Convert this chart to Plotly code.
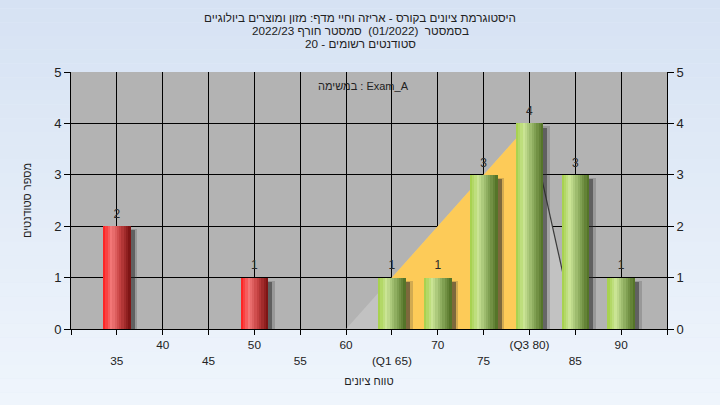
import numpy as np
import plotly.graph_objects as go

# ---------------- data ----------------
scores = [35, 50, 65, 70, 75, 80, 85, 90]
counts = [2, 1, 1, 1, 3, 4, 3, 1]
fail_below = 60
tick_vals = [30, 35, 40, 45, 50, 55, 60, 65, 70, 75, 80, 85, 90, 95]
tick_labels = ["", "35", "40", "45", "50", "55", "60", "(Q1 65)", "70", "75", "(Q3 80)", "85", "90", ""]
q1, q3 = 65, 80
dist_x = [60, 80, 85]
dist_y = [0, 4, 0]

title_lines = [
    "היסטוגרמת ציונים בקורס - אריזה וחיי מדף: מזון ומוצרים ביולוגיים",
    "בסמסטר  (01/2022)  סמסטר חורף 2022/23",
    "סטודנטים רשומים - 20",
]
task_label = "במשימה : Exam_A"
x_title = "טווח ציונים"
y_title = "מספר סטודנטים"

FONT = "Liberation Sans, Arial, DejaVu Sans, sans-serif"
BAR_W = 3.0
N_SLICES = 12


def hex2rgb(h):
    h = h.lstrip("#")
    return [int(h[i:i + 2], 16) for i in (0, 2, 4)]


def grad(stops, t):
    for (t0, c0), (t1, c1) in zip(stops[:-1], stops[1:]):
        if t0 <= t <= t1:
            f = (t - t0) / (t1 - t0) if t1 > t0 else 0
            a, b = hex2rgb(c0), hex2rgb(c1)
            return "rgb(%d,%d,%d)" % tuple(round(a[i] + (b[i] - a[i]) * f) for i in range(3))
    return stops[-1][1]


def poly_path(xs, ys):
    return "M " + " L ".join("%g,%g" % (a, b) for a, b in zip(xs, ys)) + " Z"


red_stops = [(0, "#FF1818"), (0.3, "#F27A7A"), (0.6, "#C84444"), (1.0, "#761010")]
green_stops = [(0, "#A2CF45"), (0.3, "#CBE596"), (0.6, "#93B264"), (1.0, "#4E6E22")]

fig = go.Figure()

# background gradient of paper
n_strip = 30
top_c, bot_c = hex2rgb("#D6E2F3"), hex2rgb("#EFF5FC")
shapes = []
for i in range(n_strip):
    f = i / (n_strip - 1)
    col = "rgb(%d,%d,%d)" % tuple(round(top_c[k] + (bot_c[k] - top_c[k]) * f) for k in range(3))
    shapes.append(dict(type="rect", xref="paper", yref="paper", layer="below",
                       x0=-0.2, x1=1.2, y0=1.3 - (i + 1) * 1.6 / n_strip, y1=1.3 - i * 1.6 / n_strip,
                       fillcolor=col, line=dict(width=0)))
shapes.append(dict(type="rect", xref="x domain", yref="y domain", layer="below",
                   x0=0, x1=1, y0=0, y1=1, fillcolor="#B3B3B3", line=dict(width=0)))

# distribution shape (between gridlines and bars)
yq1 = float(np.interp(q1, dist_x, dist_y))
yq3 = float(np.interp(q3, dist_x, dist_y))
shapes.append(dict(type="path", xref="x", yref="y", layer="between",
                   path=poly_path(dist_x, dist_y), fillcolor="#C2C2C2", line=dict(width=0)))
shapes.append(dict(type="path", xref="x", yref="y", layer="between",
                   path=poly_path([q1, q1, q3, q3], [0, yq1, yq3, 0]), fillcolor="#FDCB58",
                   line=dict(width=0)))
shapes.append(dict(type="line", xref="x", yref="y", layer="between",
                   x0=dist_x[1], y0=dist_y[1], x1=dist_x[2], y1=dist_y[2],
                   line=dict(color="#3A3A3A", width=1.2)))

# shadows
fig.add_trace(go.Bar(x=scores, y=[c - 0.06 for c in counts], width=BAR_W, offset=-BAR_W / 2 + 0.75,
                     marker=dict(color="rgba(60,60,60,0.22)", line=dict(width=0)), hoverinfo="skip",
                     showlegend=False))
fig.add_trace(go.Bar(x=scores, y=[c - 0.08 for c in counts], width=BAR_W, offset=-BAR_W / 2 + 0.45,
                     marker=dict(color="rgba(40,40,40,0.5)", line=dict(width=0)), hoverinfo="skip",
                     showlegend=False))

# bars with cylinder-like gradient
sw = BAR_W / N_SLICES
for k in range(N_SLICES):
    t = (k + 0.5) / N_SLICES
    cols = [grad(red_stops, t) if s < fail_below else grad(green_stops, t) for s in scores]
    fig.add_trace(go.Bar(x=scores, y=counts, width=sw * 1.08, offset=-BAR_W / 2 + k * sw,
                         marker=dict(color=cols, line=dict(width=0)), hoverinfo="skip", showlegend=False))

# value labels (placed slightly above each bar top)
fig.add_trace(go.Scatter(x=scores, y=[c + 0.1 for c in counts], mode="text", text=[str(c) for c in counts],
                         textposition="top center", textfont=dict(family=FONT, size=12, color="#2A2A2A"),
                         hoverinfo="skip", showlegend=False))

# invisible trace for right axis
fig.add_trace(go.Scatter(x=[scores[0]], y=[0], yaxis="y2", mode="markers",
                         marker=dict(opacity=0), hoverinfo="skip", showlegend=False))

ticktext = [lab if i % 2 == 0 else "<br>" + lab for i, lab in enumerate(tick_labels)]

annotations = [dict(text=task_label, xref="paper", yref="paper", x=0.49, y=0.945, xanchor="center",
                    yanchor="middle", showarrow=False, font=dict(family=FONT, size=11, color="#222222"))]
for line, yp in zip(title_lines, [1.214, 1.163, 1.109]):
    annotations.append(dict(text=line, xref="paper", yref="paper", x=(360 - 71) / 596, y=yp,
                            xanchor="center", yanchor="middle", showarrow=False,
                            font=dict(family=FONT, size=11.7, color="#222222")))

fig.update_layout(
    width=720, height=405,
    margin=dict(l=71, r=53, t=72, b=76, autoexpand=False),
    paper_bgcolor="#E3ECF8",
    plot_bgcolor="#B3B3B3",
    barmode="overlay",
    bargap=0,
    font=dict(family=FONT, size=11, color="#222222"),
    shapes=shapes,
    xaxis=dict(range=[30, 95], tickmode="array", tickvals=tick_vals, ticktext=ticktext,
               showgrid=True, gridcolor="black", gridwidth=1, zeroline=False, automargin=False,
               showline=True, linecolor="black", linewidth=1, ticks="outside", ticklen=5,
               tickcolor="black", tickfont=dict(family=FONT, size=11.8, color="#222222"),
               title=dict(text=x_title, font=dict(family=FONT, size=11, color="#222222"), standoff=10),
               fixedrange=True),
    yaxis=dict(range=[0, 5], dtick=1, showgrid=True, gridcolor="black", gridwidth=1, zeroline=False,
               showline=True, linecolor="black", linewidth=1, ticks="outside", ticklen=6, automargin=False,
               tickcolor="black", tickfont=dict(family=FONT, size=13, color="#222222"),
               title=dict(text=y_title, font=dict(family=FONT, size=11, color="#222222"), standoff=20),
               fixedrange=True),
    yaxis2=dict(range=[0, 5], dtick=1, overlaying="y", side="right", showgrid=False, zeroline=False,
                showline=True, linecolor="black", linewidth=1, ticks="outside", ticklen=6, automargin=False,
                tickcolor="black", tickfont=dict(family=FONT, size=13, color="#222222"), fixedrange=True),
    annotations=annotations,
)

fig.write_html("out.html", config={"displayModeBar": False},
               post_script="document.body.style.margin='0';document.body.style.padding='0';")
